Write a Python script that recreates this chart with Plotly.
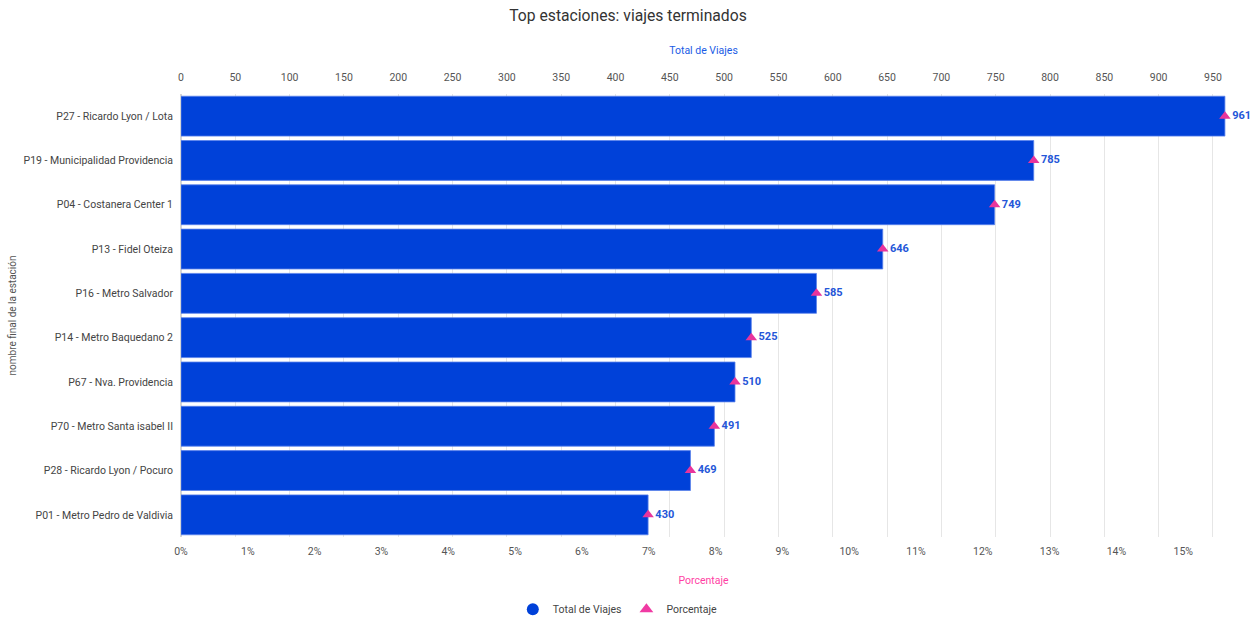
import plotly.graph_objects as go

stations = [
    "P27 - Ricardo Lyon / Lota",
    "P19 - Municipalidad Providencia",
    "P04 - Costanera Center 1",
    "P13 - Fidel Oteiza",
    "P16 - Metro Salvador",
    "P14 - Metro Baquedano 2",
    "P67 - Nva. Providencia",
    "P70 - Metro Santa isabel II",
    "P28 - Ricardo Lyon / Pocuro",
    "P01 - Metro Pedro de Valdivia",
]
total_viajes = [961, 785, 749, 646, 585, 525, 510, 491, 469, 430]
grand_total = sum(total_viajes)
porcentaje = [v / grand_total for v in total_viajes]

BLUE = "#0041d9"
PINK = "#e8349c"
FONT = "Roboto"

top_max = 962
pct_max = top_max / grand_total

fig = go.Figure()
fig.add_trace(go.Bar(
    y=stations, x=total_viajes, orientation="h", xaxis="x",
    name="Total de Viajes", showlegend=False,
    marker=dict(color=BLUE, line=dict(color="rgba(90,130,235,0.8)", width=1)),
    hoverinfo="x+y",
))
fig.add_trace(go.Scatter(
    y=stations, x=porcentaje, xaxis="x2", mode="markers+text",
    name="Porcentaje", showlegend=False,
    marker=dict(symbol="triangle-up", size=10, color=PINK),
    text=[str(v) for v in total_viajes], textposition="middle right",
    textfont=dict(family=FONT, size=11, color="#2456d8", weight="bold"),
    cliponaxis=False,
))
# legend entries
fig.add_trace(go.Scatter(
    x=[None], y=[None], mode="markers", name="Total de Viajes",
    marker=dict(symbol="circle", size=11, color=BLUE),
))
fig.add_trace(go.Scatter(
    x=[None], y=[None], mode="markers", name="Porcentaje",
    marker=dict(symbol="triangle-up", size=9, color="#f03aa3"),
))

fig.update_layout(
    width=1256, height=622,
    margin=dict(l=181, r=30, t=94, b=85, autoexpand=False),
    paper_bgcolor="white", plot_bgcolor="white",
    font=dict(family=FONT, size=10.5, color="#555555"),
    title=dict(text="Top estaciones: viajes terminados", x=0.5, xanchor="center",
               y=1 - 16 / 622, yanchor="middle",
               font=dict(family=FONT, size=15.7, color="#333333")),
    bargap=0.1,
    showlegend=True,
    legend=dict(orientation="h", x=0.418, xanchor="center", y=-0.163, yanchor="middle",
                font=dict(family=FONT, size=10.5, color="#444444"), itemsizing="constant"),
    xaxis=dict(
        range=[0, top_max], dtick=50, tick0=0, side="top",
        showgrid=True, gridcolor="#e6e6e6", gridwidth=1, automargin=False,
        zeroline=True, zerolinecolor="#d6d6d6", showline=False,
        ticks="", ticklabelstandoff=10,
        tickfont=dict(family=FONT, size=10.5, color="#555555"),
        title=dict(text="Total de Viajes", font=dict(family=FONT, size=10.5, color="#1a5ce6"), standoff=14),
    ),
    xaxis2=dict(
        range=[0, pct_max], tickformat=".0%", dtick=0.01, tick0=0,
        overlaying="x", side="bottom",
        showgrid=False, zeroline=False, showline=False, automargin=False,
        ticks="", ticklabelstandoff=6,
        tickfont=dict(family=FONT, size=10.5, color="#555555"),
        title=dict(text="Porcentaje", font=dict(family=FONT, size=10.5, color="#ff3fa4"), standoff=20),
    ),
    yaxis=dict(
        categoryorder="array", categoryarray=stations, range=[9.5, -0.5],
        showgrid=False, zeroline=False, showline=False, ticks="", automargin=False,
        ticklabelstandoff=7,
        tickfont=dict(family=FONT, size=10.5, color="#444444"),
        title=dict(text="nombre final de la estación", font=dict(family=FONT, size=10, color="#555555"), standoff=5),
    ),
)

fig.write_html("out.html", config={"displayModeBar": False},
               post_script="document.body.style.margin='0';document.body.style.overflow='hidden';")
